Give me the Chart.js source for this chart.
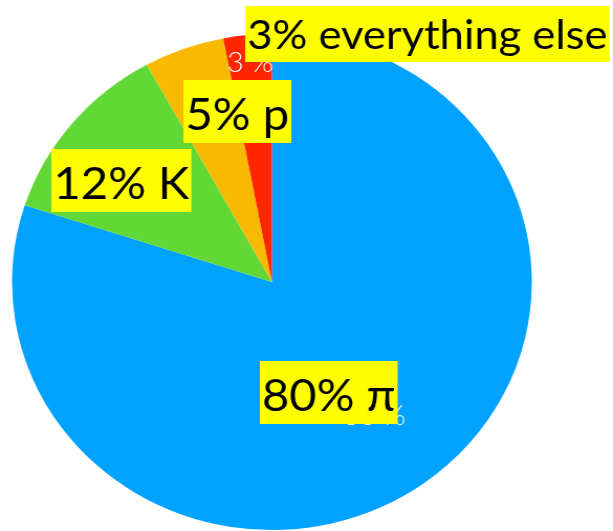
<!DOCTYPE html>
<html>
<head>
<meta charset="utf-8">
<script src="https://cdn.jsdelivr.net/npm/chart.js@4/dist/chart.umd.min.js"></script>
<style>
  html, body { margin: 0; padding: 0; background: #fff; }
</style>
</head>
<body>
<!-- drawn at 585 wide, shown at 613 wide -->
<canvas id="pie" width="585" height="531" style="display:block;width:613px;height:531px"></canvas>
<script>
const names = ['π', 'K', 'p', 'everything else'];
const shares = [80, 12, 5, 3];
const colors = ['#00A2FF', '#61D836', '#F8BA00', '#FF2600'];

// where the white value labels sit, as a fraction of the radius
const valueLabelRadius = [0.67, 0.66, 0.7, 0.886];

// yellow callouts: left, top, height, font size (canvas px)
const callouts = [
  { x: 248, y: 361, h: 63, size: 45 },
  { x: 49, y: 149, h: 63, size: 45 },
  { x: 175, y: 80, h: 63, size: 45 },
  { x: 234, y: 6, h: 56, size: 41.5 },
];

const pieLabels = {
  id: 'pieLabels',
  afterDatasetsDraw(chart) {
    const ctx = chart.ctx;
    const arcs = chart.getDatasetMeta(0).data;

    // white value text inside the slices
    ctx.save();
    ctx.fillStyle = '#fff';
    ctx.font = '300 27px Lato';
    ctx.textAlign = 'center';
    ctx.textBaseline = 'middle';
    arcs.forEach((arc, i) => {
      const { x, y, startAngle, endAngle, outerRadius } = arc.getProps(['x', 'y', 'startAngle', 'endAngle', 'outerRadius']);
      const mid = (startAngle + endAngle) / 2;
      const r = outerRadius * valueLabelRadius[i];
      ctx.fillText(shares[i] + ' %', x + Math.cos(mid) * r, y + Math.sin(mid) * r);
    });
    ctx.restore();

    // yellow boxed callouts on top
    ctx.save();
    ctx.textAlign = 'left';
    ctx.textBaseline = 'alphabetic';
    shares.forEach((v, i) => {
      const c = callouts[i];
      const text = v + '% ' + names[i];
      ctx.font = c.size + 'px Lato';
      const w = ctx.measureText(text).width + 4;
      ctx.fillStyle = '#FFFF00';
      ctx.fillRect(c.x, c.y, w, c.h);
      ctx.fillStyle = '#000';
      ctx.fillText(text, c.x + 2, c.y + c.h - 13.5);
    });
    ctx.restore();
  }
};

new Chart(document.getElementById('pie'), {
  type: 'pie',
  data: {
    labels: names,
    datasets: [{
      data: shares,
      backgroundColor: colors,
      borderWidth: 0,
    }]
  },
  options: {
    responsive: false,
    animation: false,
    layout: { padding: { top: 34, bottom: 1, left: 0, right: 66 } },
    plugins: {
      legend: { display: false },
      tooltip: { enabled: false },
    },
  },
  plugins: [pieLabels],
});
</script>
</body>
</html>
